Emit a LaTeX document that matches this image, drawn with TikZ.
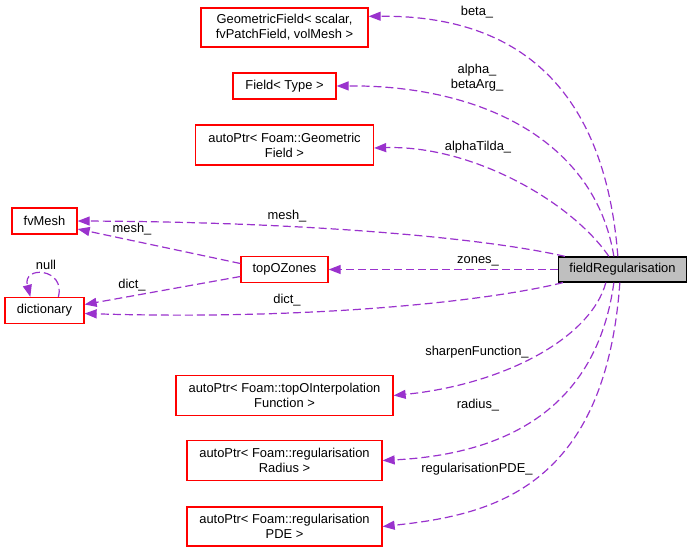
\documentclass[tikz,border=0pt]{standalone}
\usepackage{fontspec}
\setmainfont{Liberation Sans}
\usetikzlibrary{arrows.meta,calc}
\definecolor{edgecol}{HTML}{9A32CD}
\definecolor{boxfill}{HTML}{BFBFBF}
\begin{document}
\begin{tikzpicture}[x=1pt,y=-1pt,
  every node/.style={font=\fontsize{12.9}{15}\selectfont},
  cls/.style={draw=red, line width=1.3pt, fill=white, align=center, inner sep=0pt},
  mainbox/.style={draw=black, line width=1.3pt, fill=boxfill, align=center, inner sep=0pt},
  lbl/.style={align=center, inner sep=0pt},
  edge/.style={draw=edgecol, line width=1.2pt, dash pattern=on 8pt off 4pt,
    -{Triangle[length=12pt,width=9pt,fill=edgecol]}}]
\useasboundingbox (0,0) rectangle (692,553);
% nodes
\node[cls, minimum width=167pt, minimum height=39pt] (geo) at (284.5,27.5) {GeometricField< scalar,\\fvPatchField, volMesh >};
\node[cls, minimum width=103pt, minimum height=26pt] (fld) at (284.5,86) {Field< Type >};
\node[cls, minimum width=178pt, minimum height=40pt] (apgf) at (284.5,145) {autoPtr< Foam::Geometric\\Field >};
\node[cls, minimum width=65pt, minimum height=26pt] (fvm) at (44.5,221) {fvMesh};
\node[cls, minimum width=87pt, minimum height=26pt] (topo) at (284.5,269.5) {topOZones};
\node[cls, minimum width=79pt, minimum height=26pt] (dict) at (44.5,310.5) {dictionary};
\node[mainbox, minimum width=128pt, minimum height=25pt] (fr) at (622.5,269.5) {fieldRegularisation};
\node[cls, minimum width=217pt, minimum height=40pt] (apti) at (284.5,395.5) {autoPtr< Foam::topOInterpolation\\Function >};
\node[cls, minimum width=195pt, minimum height=40pt] (aprr) at (284.5,460.5) {autoPtr< Foam::regularisation\\Radius >};
\node[cls, minimum width=195pt, minimum height=39pt] (appde) at (284.5,526.5) {autoPtr< Foam::regularisation\\PDE >};
% edges from fieldRegularisation
\draw[edge] ($(fr.north west)+(60,0)$) .. controls (605,90) and (520,15) .. ($(geo.north east)+(0,9)$);
\draw[edge] ($(fr.north west)+(56,0)$) .. controls (595,140) and (480,85) .. (fld.east);
\draw[edge] ($(fr.north west)+(51,0)$) .. controls (570,200) and (470,145) .. ($(apgf.east)+(0,3)$);
\draw[edge] ($(fr.north west)+(7,0)$) .. controls (480,237) and (300,222) .. (fvm.east);
\draw[edge] (fr.west) -- (topo.east);
\draw[edge] ($(fr.south west)+(5,0)$) .. controls (480,303) and (300,320) .. ($(dict.east)+(0,3)$);
\draw[edge] ($(fr.south west)+(48,0)$) .. controls (590,340) and (500,385) .. (apti.east);
\draw[edge] ($(fr.south west)+(56,0)$) .. controls (595,420) and (490,455) .. (aprr.east);
\draw[edge] ($(fr.south west)+(62,0)$) .. controls (605,490) and (490,515) .. (appde.east);
% edges from topOZones
\draw[edge] ($(topo.west)+(0,-6)$) -- ($(fvm.east)+(0,8)$);
\draw[edge] ($(topo.west)+(0,7)$) -- ($(dict.east)+(0,-6)$);
% self loop
\draw[edge] ($(dict.north west)+(54,0)$) .. controls (66,268) and (22,265) .. ($(dict.north west)+(26,0)$);
% labels
\node[lbl] (l1) at (477,12) {beta\_};
\node[lbl] (l2) at (477,78) {alpha\_\\betaArg\_};
\node[lbl] (l3) at (478,147) {alphaTilda\_};
\node[lbl] (l4) at (287,216) {mesh\_};
\node[lbl] (l5) at (478,261) {zones\_};
\node[lbl] (l6) at (287,300) {dict\_};
\node[lbl] (l7) at (132,229) {mesh\_};
\node[lbl] (l8) at (132,285) {dict\_};
\node[lbl] (l9) at (46,265) {null};
\node[lbl] (l10) at (477,352) {sharpenFunction\_};
\node[lbl] (l11) at (478,405) {radius\_};
\node[lbl] (l12) at (477,469) {regularisationPDE\_};
\end{tikzpicture}
\end{document}
